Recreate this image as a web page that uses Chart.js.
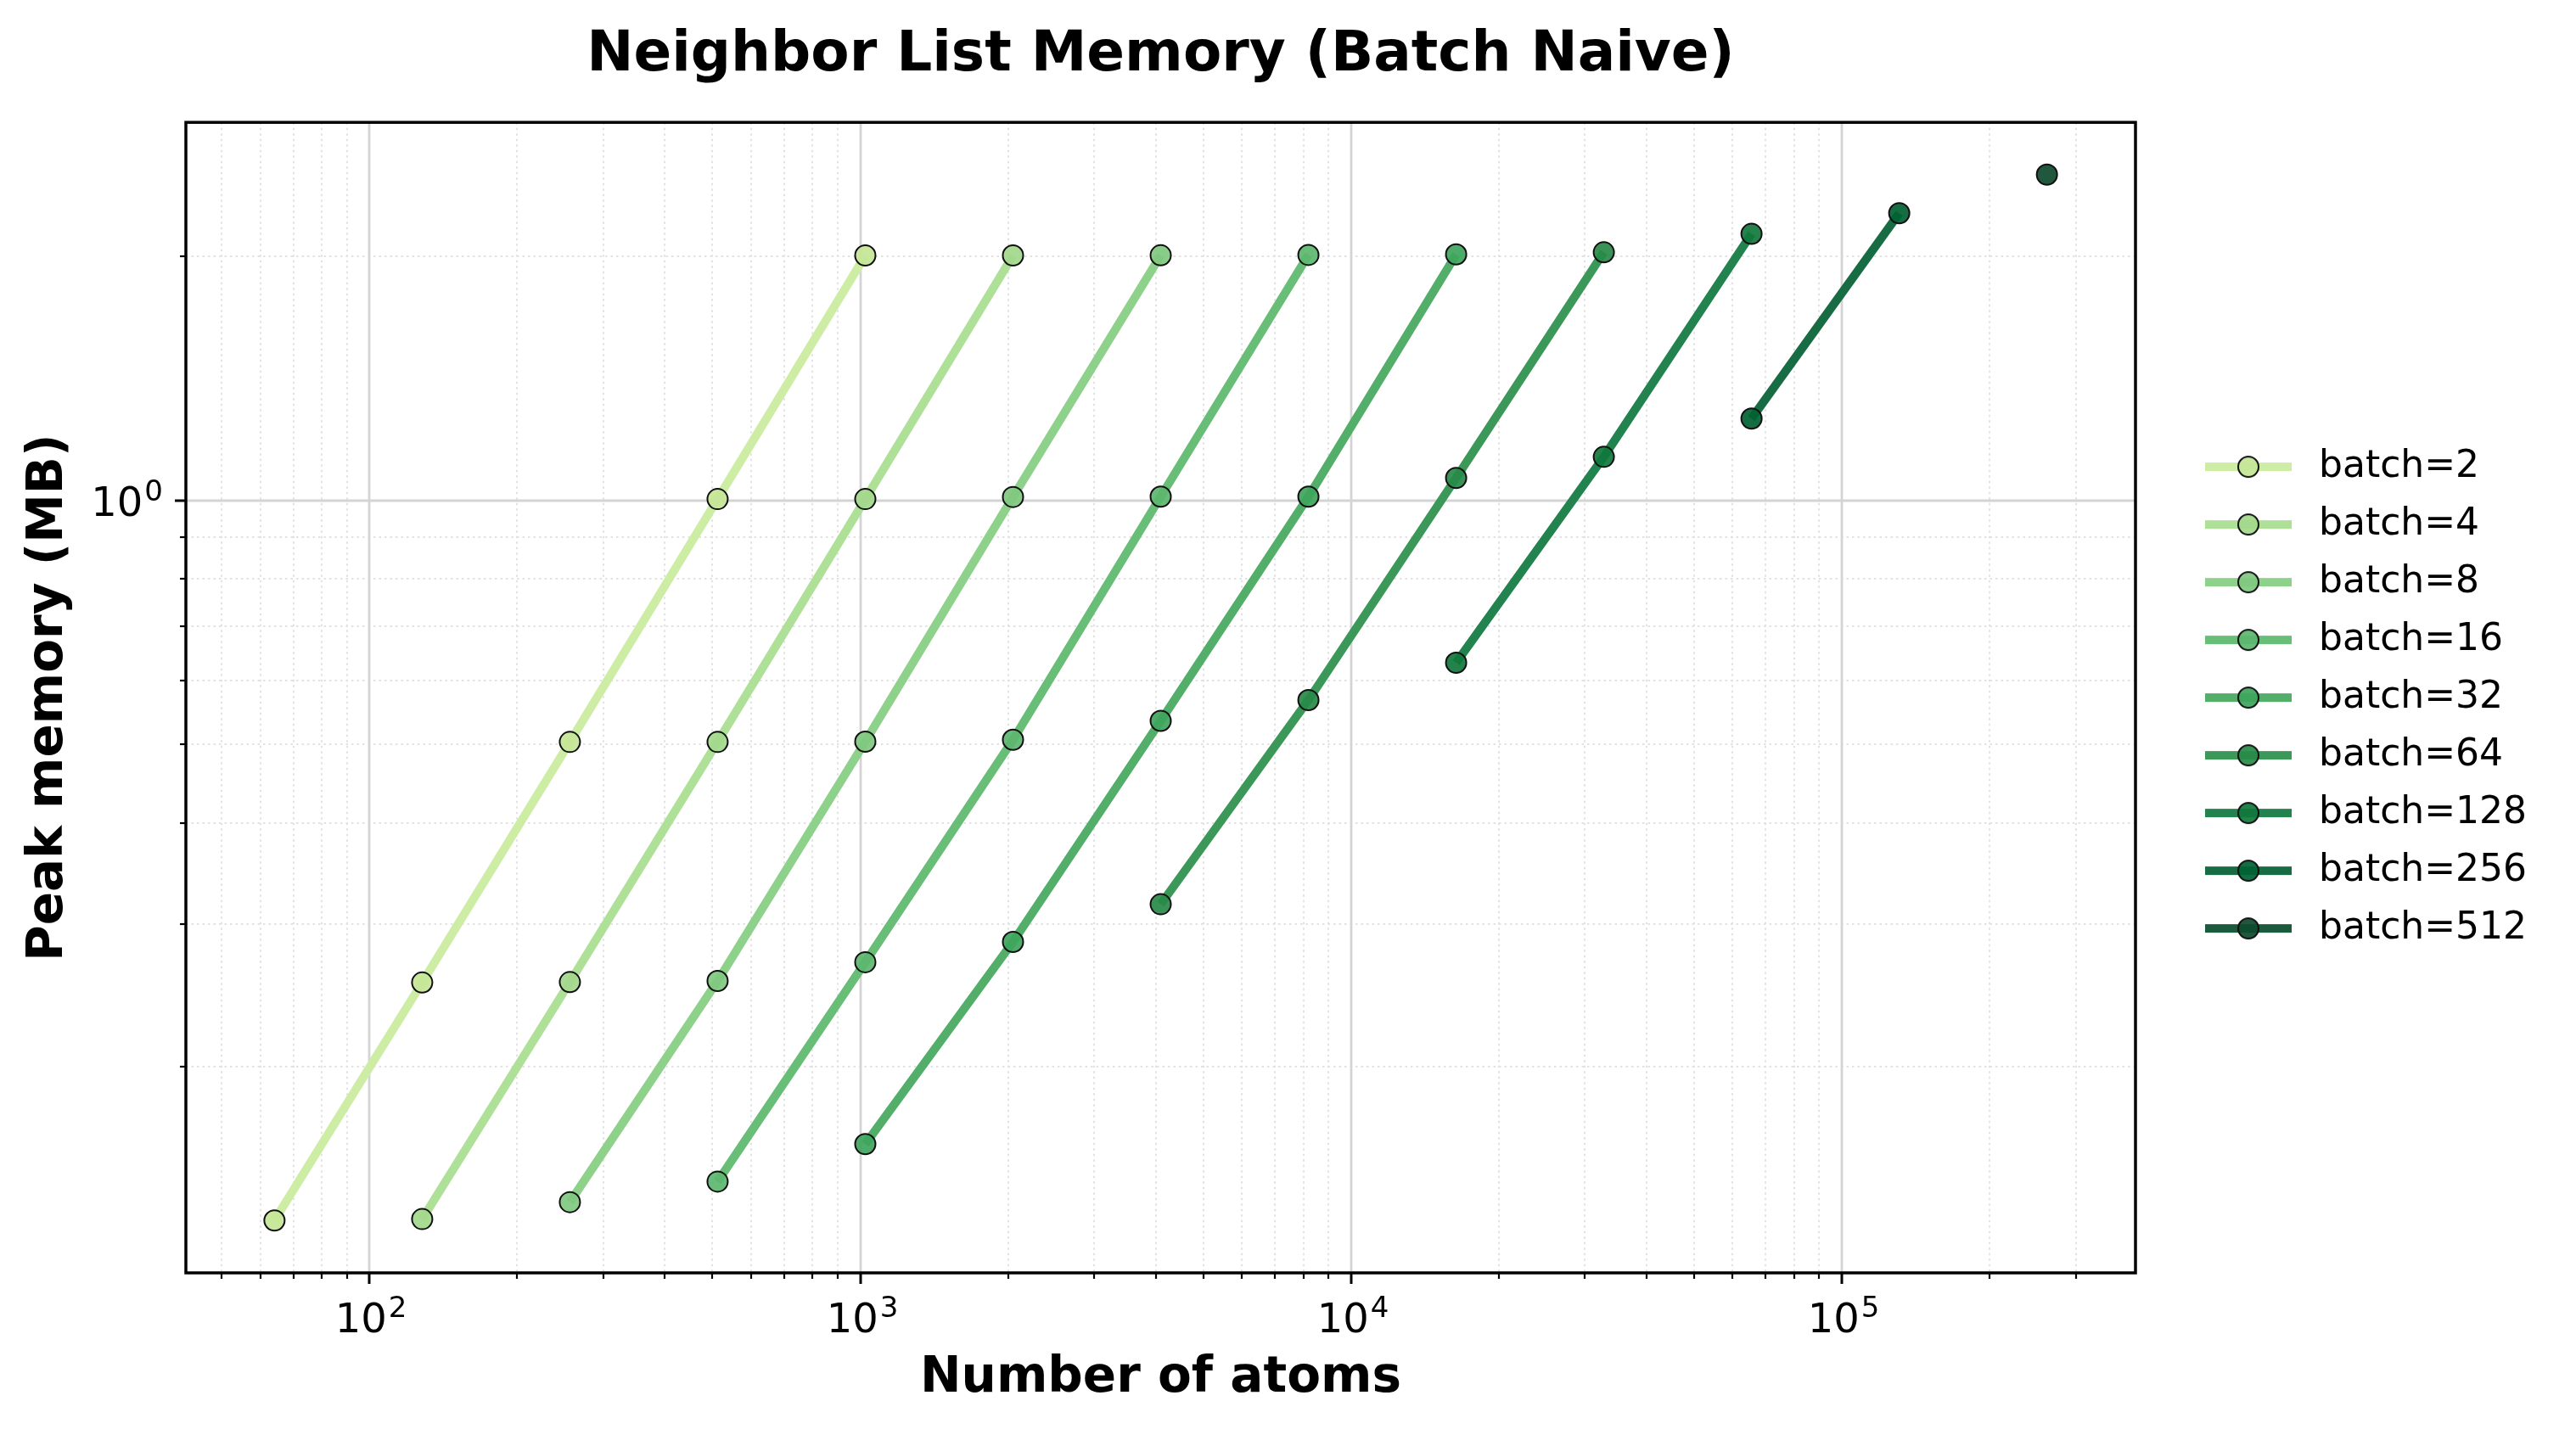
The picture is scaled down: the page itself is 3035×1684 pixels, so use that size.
<!DOCTYPE html>
<html>
<head>
<meta charset="utf-8">
<title>Neighbor List Memory (Batch Naive)</title>
<script src="https://cdn.jsdelivr.net/npm/chart.js@4.4.1/dist/chart.umd.min.js"></script>
<style>
  html, body { margin: 0; padding: 0; background: #fff; }
  canvas { display: block; }
</style>
</head>
<body>
<canvas id="chart" width="3035" height="1684"></canvas>
<script>
// batch sizes and their (atoms, peak MB) series
const batchSizes = [2, 4, 8, 16, 32, 64, 128, 256, 512];

const atomsB2 = [64, 128, 256, 512, 1024];
const memB2 = [0.1293, 0.2542, 0.5035, 1.004, 2.006];
const atomsB4 = [128, 256, 512, 1024, 2048];
const memB4 = [0.1298, 0.2545, 0.5035, 1.004, 2.006];
const atomsB8 = [256, 512, 1024, 2048, 4096];
const memB8 = [0.1362, 0.2553, 0.504, 1.01, 2.007];
const atomsB16 = [512, 1024, 2048, 4096, 8192];
const memB16 = [0.1444, 0.2693, 0.5067, 1.011, 2.009];
const atomsB32 = [1024, 2048, 4096, 8192, 16384];
const memB32 = [0.1606, 0.2853, 0.5346, 1.011, 2.012];
const atomsB64 = [4096, 8192, 16384, 32768];
const memB64 = [0.3175, 0.5672, 1.066, 2.024];
const atomsB128 = [16384, 32768, 65536];
const memB128 = [0.6306, 1.132, 2.133];
const atomsB256 = [65536, 131072];
const memB256 = [1.262, 2.262];
const atomsB512 = [262144];
const memB512 = [2.524];

const atomsBySeries = [atomsB2, atomsB4, atomsB8, atomsB16, atomsB32, atomsB64, atomsB128, atomsB256, atomsB512];
const memBySeries = [memB2, memB4, memB8, memB16, memB32, memB64, memB128, memB256, memB512];

// axis limits (log, 5% margins like matplotlib)
const xMin = 42.23, xMax = 397200;
const yMin = 0.1114, yMax = 2.928;

const lineColors = ['#cdeca4', '#afe097', '#8ed18a', '#68bd77', '#52ae68', '#3c9858', '#23834f', '#186c44', '#1b5a3c'];
const markerColors = ['rgba(196,230,150,0.92)', 'rgba(163,216,140,0.92)', 'rgba(128,200,128,0.92)', 'rgba(92,182,110,0.92)', 'rgba(62,165,92,0.92)', 'rgba(40,138,72,0.92)', 'rgba(16,120,60,0.92)', 'rgba(0,98,50,0.92)', 'rgba(14,74,44,0.92)'];

const FONT = 'DejaVu Sans';
const BASE_PX = 48, EXP_PX = 34;

function isMajor(v) {
  const l = Math.log10(v);
  return Math.abs(l - Math.round(l)) < 1e-9;
}

function logTicks(min, max) {
  const out = [];
  for (let e = Math.floor(Math.log10(min)); e <= Math.ceil(Math.log10(max)); e++) {
    for (let m = 1; m <= 9; m++) {
      const v = m * Math.pow(10, e);
      if (v >= min && v <= max) out.push({ value: v });
    }
  }
  return out;
}

// "10" + raised exponent, like matplotlib's mathtext tick labels
function drawPow(ctx, v, x, baseline, align) {
  const e = String(Math.round(Math.log10(v)));
  ctx.font = BASE_PX + 'px "' + FONT + '"';
  const wb = ctx.measureText('10').width;
  ctx.font = EXP_PX + 'px "' + FONT + '"';
  const we = ctx.measureText(e).width;
  const total = wb + we + 2;
  const left = align === 'center' ? x - total / 2 : x - total;
  ctx.textAlign = 'left';
  ctx.textBaseline = 'alphabetic';
  ctx.font = BASE_PX + 'px "' + FONT + '"';
  ctx.fillText('10', left, baseline);
  ctx.font = EXP_PX + 'px "' + FONT + '"';
  ctx.fillText(e, left + wb + 2, baseline - 18);
}

// legend icon: line segment with a marker in the middle
function legendIcon(i) {
  const c = document.createElement('canvas');
  c.width = 150; c.height = 30;
  const g = c.getContext('2d');
  g.strokeStyle = lineColors[i];
  g.lineWidth = 10;
  g.beginPath(); g.moveTo(48, 15); g.lineTo(150, 15); g.stroke();
  g.beginPath(); g.arc(99, 15, 12, 0, Math.PI * 2);
  g.fillStyle = markerColors[i]; g.fill();
  g.lineWidth = 2; g.strokeStyle = '#111'; g.stroke();
  return c;
}
const legendIcons = batchSizes.map((b, i) => legendIcon(i));

// legend box takes the whole strip right of the axes
const LEGEND_W = 519;
const legendWidth = {
  id: 'legendWidth',
  beforeUpdate(chart) {
    const lg = chart.legend;
    if (lg && !lg._fixedW) {
      const fit = lg.fit.bind(lg);
      lg.fit = function () { fit(); this.width = LEGEND_W; };
      lg._fixedW = true;
    }
  }
};

// grid, frame, tick marks and tick labels drawn matplotlib-style
const axesDecor = {
  id: 'axesDecor',
  beforeDatasetsDraw(chart) {
    const { ctx, chartArea: a, scales: { x, y } } = chart;
    ctx.save();
    ctx.beginPath(); ctx.rect(a.left, a.top, a.width, a.height); ctx.clip();
    for (const major of [false, true]) {
      ctx.strokeStyle = major ? '#d4d4d4' : '#e2e2e2';
      ctx.lineWidth = major ? 2.8 : 2;
      ctx.setLineDash(major ? [] : [2.5, 4]);
      for (const t of x.ticks) {
        if (isMajor(t.value) !== major) continue;
        const px = Math.round(x.getPixelForValue(t.value));
        ctx.beginPath(); ctx.moveTo(px, a.top); ctx.lineTo(px, a.bottom); ctx.stroke();
      }
      for (const t of y.ticks) {
        if (isMajor(t.value) !== major) continue;
        const py = Math.round(y.getPixelForValue(t.value));
        ctx.beginPath(); ctx.moveTo(a.left, py); ctx.lineTo(a.right, py); ctx.stroke();
      }
    }
    ctx.restore();
  },
  afterDatasetsDraw(chart) {
    const { ctx, chartArea: a, scales: { x, y } } = chart;
    ctx.save();
    ctx.strokeStyle = '#000';
    ctx.fillStyle = '#000';
    ctx.setLineDash([]);
    for (const t of x.ticks) {
      const major = isMajor(t.value);
      const px = Math.round(x.getPixelForValue(t.value));
      ctx.lineWidth = major ? 3 : 2.2;
      ctx.beginPath(); ctx.moveTo(px, a.bottom); ctx.lineTo(px, a.bottom + (major ? 13 : 7)); ctx.stroke();
      if (major) drawPow(ctx, t.value, px + 2, a.bottom + 70, 'center');
    }
    for (const t of y.ticks) {
      const major = isMajor(t.value);
      const py = Math.round(y.getPixelForValue(t.value));
      ctx.lineWidth = major ? 3 : 2.2;
      ctx.beginPath(); ctx.moveTo(a.left, py); ctx.lineTo(a.left - (major ? 13 : 7), py); ctx.stroke();
      if (major) drawPow(ctx, t.value, a.left - 27, py + 18, 'right');
    }
    ctx.lineWidth = 3.5;
    ctx.strokeRect(a.left, a.top, a.right - a.left, a.bottom - a.top);
    ctx.restore();
  }
};

const datasets = batchSizes.map((b, i) => ({
  label: 'batch=' + b,
  data: atomsBySeries[i].map((n, k) => ({ x: n, y: memBySeries[i][k] })),
  showLine: true,
  borderColor: lineColors[i],
  borderWidth: 10,
  backgroundColor: markerColors[i],
  pointBackgroundColor: markerColors[i],
  pointBorderColor: '#111',
  pointBorderWidth: 2,
  pointRadius: 12,
  pointHoverRadius: 12,
  tension: 0,
  order: batchSizes.length - i
}));

new Chart(document.getElementById('chart'), {
  type: 'scatter',
  data: { datasets },
  options: {
    responsive: false,
    animation: false,
    devicePixelRatio: 1,
    layout: { padding: 0 },
    scales: {
      x: {
        type: 'logarithmic',
        min: xMin,
        max: xMax,
        afterBuildTicks: s => { s.ticks = logTicks(s.min, s.max); },
        afterFit: s => { s.height = 184; },
        grid: { display: false, drawTicks: false },
        border: { display: false },
        ticks: { display: false, autoSkip: false },
        title: {
          display: true, text: 'Number of atoms', color: '#000',
          font: { family: FONT, size: 58, weight: 'bold' },
          padding: { top: 0, bottom: 24 }
        }
      },
      y: {
        type: 'logarithmic',
        min: yMin,
        max: yMax,
        afterBuildTicks: s => { s.ticks = logTicks(s.min, s.max); },
        afterFit: s => { s.width = 219; },
        grid: { display: false, drawTicks: false },
        border: { display: false },
        ticks: { display: false, autoSkip: false },
        title: {
          display: true, text: 'Peak memory (MB)', color: '#000',
          font: { family: FONT, size: 58, weight: 'bold' },
          padding: { top: 23, bottom: 0 }
        }
      }
    },
    plugins: {
      title: {
        display: true, text: 'Neighbor List Memory (Batch Naive)', color: '#000',
        fullSize: false,
        font: { family: FONT, size: 66, weight: 'bold' },
        padding: { top: 26, bottom: 39 }
      },
      legend: {
        position: 'right',
        fullSize: false,
        labels: {
          usePointStyle: true,
          pointStyleWidth: 170,
          padding: 24,
          color: '#000',
          font: { family: FONT, size: 44 },
          generateLabels: chart => chart.data.datasets.map((ds, i) => ({
            text: ds.label,
            pointStyle: legendIcons[i],
            fillStyle: markerColors[i],
            strokeStyle: lineColors[i],
            lineWidth: 0,
            hidden: false,
            datasetIndex: i
          }))
        }
      },
      tooltip: { enabled: false }
    }
  },
  plugins: [legendWidth, axesDecor]
});
</script>
</body>
</html>
